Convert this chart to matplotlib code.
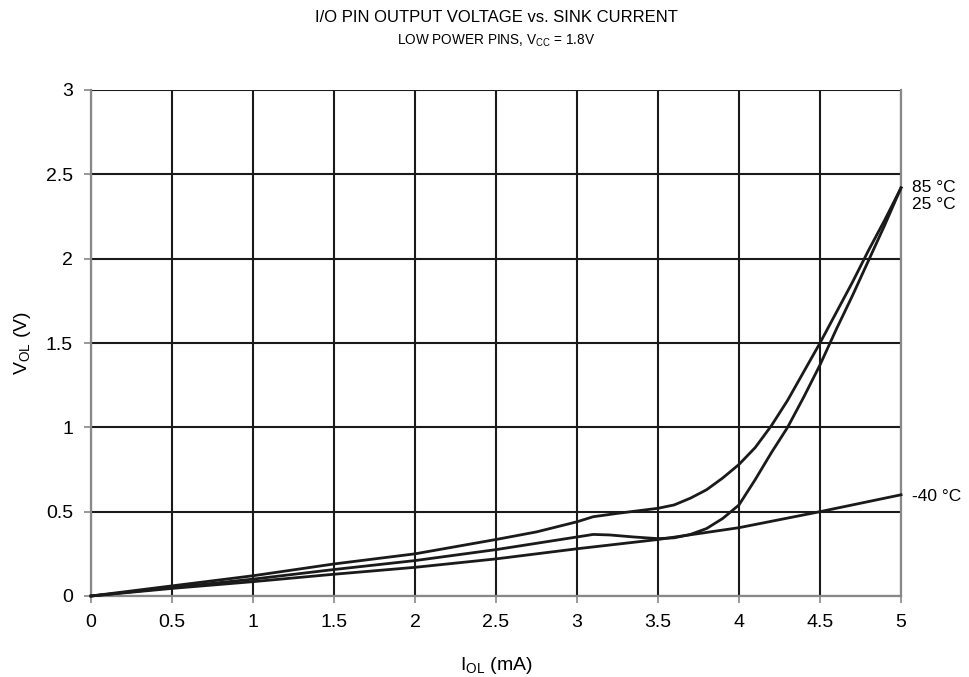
import matplotlib
matplotlib.use("Agg")
import matplotlib.pyplot as plt

plt.rcParams['font.family'] = ['Liberation Sans', 'DejaVu Sans']
plt.rcParams['mathtext.fontset'] = 'custom'
plt.rcParams['mathtext.rm'] = 'Liberation Sans'

# Data
x85 = [0, 0.5, 1, 1.5, 2, 2.5, 2.75, 3, 3.1, 3.25, 3.5, 3.6, 3.7, 3.8, 3.9,
       4, 4.1, 4.2, 4.3, 4.4, 4.5, 4.6, 4.7, 4.8, 4.9, 5]
v85 = [0, 0.06, 0.12, 0.19, 0.25, 0.335, 0.38, 0.44, 0.47, 0.49, 0.52, 0.54, 0.58, 0.63, 0.70,
       0.78, 0.88, 1.01, 1.16, 1.33, 1.50, 1.68, 1.86, 2.05, 2.23, 2.42]

x25 = [0, 0.5, 1, 1.5, 2, 2.5, 3, 3.1, 3.2, 3.35, 3.5, 3.6, 3.7, 3.8, 3.9,
       4, 4.1, 4.2, 4.3, 4.4, 4.5, 4.6, 4.7, 4.8, 4.9, 5]
v25 = [0, 0.05, 0.10, 0.157, 0.21, 0.275, 0.35, 0.365, 0.362, 0.35, 0.34, 0.345, 0.365, 0.40, 0.46,
       0.54, 0.69, 0.85, 1.0, 1.18, 1.37, 1.58, 1.78, 1.99, 2.2, 2.42]

xm40 = [0, 0.5, 1, 1.5, 2, 2.5, 3, 3.5, 4, 4.5, 5]
vm40 = [0, 0.045, 0.085, 0.129, 0.17, 0.22, 0.28, 0.335, 0.405, 0.5, 0.6]

xticks = [0, 0.5, 1, 1.5, 2, 2.5, 3, 3.5, 4, 4.5, 5]
yticks = [0, 0.5, 1, 1.5, 2, 2.5, 3]

fig = plt.figure(figsize=(9.7, 6.77), dpi=100)
ax = fig.add_axes([91/970, 81/677, 810/970, 506/677])

ax.set_xlim(0, 5)
ax.set_ylim(0, 3)
ax.set_xticks(xticks)
ax.set_yticks(yticks)
ax.set_xticklabels([f'{t:g}' for t in xticks])
ax.set_yticklabels([f'{t:g}' for t in yticks])
ax.grid(True, color='#1a1a1a', linewidth=1.5)
ax.set_axisbelow(True)

for s in ['left', 'right', 'bottom']:
    ax.spines[s].set_color('#888888')
    ax.spines[s].set_linewidth(1.6)
ax.spines['top'].set_visible(False)
ax.tick_params(axis='both', colors='#888888', labelcolor='black', labelsize=14,
               length=5, width=1.2, pad=8)

for xs, vs in [(x85, v85), (x25, v25), (xm40, vm40)]:
    ax.plot(xs, vs, color='#1a1a1a', linewidth=2.0, clip_on=False, zorder=3,
            solid_joinstyle='round')

ax.text(5.07, 2.42, '85 °C', fontsize=12.5, va='center', ha='left')
ax.text(5.07, 2.32, '25 °C', fontsize=12.5, va='center', ha='left')
ax.text(5.07, 0.59, '-40 °C', fontsize=12.5, va='center', ha='left')

ax.set_xlabel(r'I$_{\mathregular{OL}}$ (mA)', fontsize=14, labelpad=17)
ax.set_ylabel(r'V$_{\mathregular{OL}}$ (V)', fontsize=14, labelpad=9)

fig.text(496/970, 1 - 17/677, 'I/O PIN OUTPUT VOLTAGE vs. SINK CURRENT',
         fontsize=12, ha='center', va='center')
fig.text(496/970, 1 - 41/677, r'LOW POWER PINS, V$_{\mathregular{CC}}$ = 1.8V',
         fontsize=9.8, ha='center', va='center')

plt.savefig('out.png', dpi=100)
